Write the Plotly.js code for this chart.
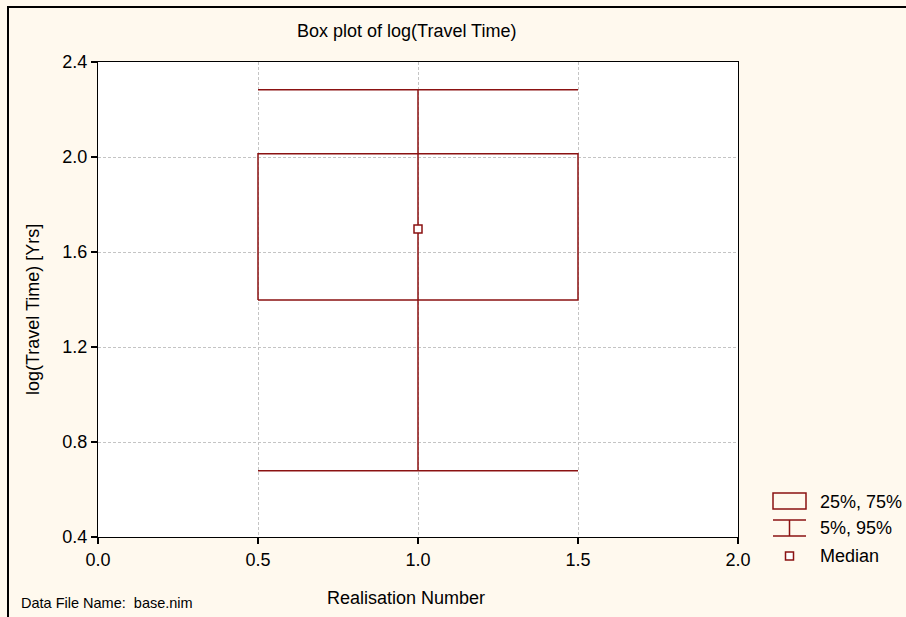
<!DOCTYPE html>
<html>
<head>
<meta charset="utf-8">
<script src="https://cdn.plot.ly/plotly-3.0.1.min.js"></script>
<style>
  html, body { margin: 0; padding: 0; background: #FFF9EE; }
  #wrap { position: relative; width: 906px; height: 617px; overflow: hidden; }
  #chart { position: absolute; left: 0; top: 0; width: 906px; height: 617px; }
  #frame { position: absolute; left: 7px; top: 6px; width: 920px; height: 640px;
           border-left: 2px solid #000; border-top: 2px solid #000; pointer-events: none; }
</style>
</head>
<body>
<div id="wrap"><div id="chart"></div><div id="frame"></div></div>
<script>
// ---- data ----
const realisation = [1];
const boxLeft = [0.5];
const boxRight = [1.5];
const p5 = [0.679];
const q25 = [1.398];
const median = [1.697];
const q75 = [2.014];
const p95 = [2.283];
const legendLabels = ["25%, 75%", "5%, 95%", "Median"];
const xTickVals = [0.0, 0.5, 1.0, 1.5, 2.0];
const yTickVals = [0.4, 0.8, 1.2, 1.6, 2.0, 2.4];

const RED = "#8B1212";
const FONT = "Liberation Sans, Arial, sans-serif";

// pixel -> paper helpers (plot area: x 98..738, y 62..537)
const L = 98, R = 168, T = 62, B = 80, W = 906, H = 617;
const pw = W - L - R, ph = H - T - B;
const px = v => (v - L) / pw;
const py = v => (H - B - v) / ph;

const traces = [];
for (let i = 0; i < realisation.length; i++) {
  // box outline
  traces.push({
    type: "scatter", mode: "lines", hoverinfo: "skip", showlegend: false,
    x: [boxLeft[i], boxRight[i], boxRight[i], boxLeft[i], boxLeft[i]],
    y: [q25[i], q25[i], q75[i], q75[i], q25[i]],
    line: { color: RED, width: 1.5 }
  });
  // whisker stem
  traces.push({
    type: "scatter", mode: "lines", hoverinfo: "skip", showlegend: false,
    x: [realisation[i], realisation[i]], y: [p5[i], p95[i]],
    line: { color: RED, width: 1.5 }
  });
  // whisker caps
  traces.push({
    type: "scatter", mode: "lines", hoverinfo: "skip", showlegend: false,
    x: [boxLeft[i], boxRight[i], null, boxLeft[i], boxRight[i]],
    y: [p5[i], p5[i], null, p95[i], p95[i]],
    line: { color: RED, width: 1.5 }
  });
  // median marker
  traces.push({
    type: "scatter", mode: "markers", hoverinfo: "skip", showlegend: false,
    x: [realisation[i]], y: [median[i]],
    marker: { symbol: "square", size: 8, color: "#ffffff", line: { color: RED, width: 1.5 } }
  });
}

const shapes = [
  // legend: box
  { type: "rect", xref: "paper", yref: "paper", x0: px(773), x1: px(806), y0: py(509), y1: py(493),
    line: { color: RED, width: 1.5 }, fillcolor: "rgba(0,0,0,0)" },
  // legend: whisker
  { type: "line", xref: "paper", yref: "paper", x0: px(773), x1: px(806), y0: py(520), y1: py(520), line: { color: RED, width: 1.5 } },
  { type: "line", xref: "paper", yref: "paper", x0: px(773), x1: px(806), y0: py(536), y1: py(536), line: { color: RED, width: 1.5 } },
  { type: "line", xref: "paper", yref: "paper", x0: px(789.5), x1: px(789.5), y0: py(520), y1: py(536), line: { color: RED, width: 1.5 } },
  // legend: median
  { type: "rect", xref: "paper", yref: "paper", x0: px(785.5), x1: px(793.5), y0: py(552), y1: py(560),
    line: { color: RED, width: 1.5 }, fillcolor: "#ffffff" }
];

const legendY = [502, 528, 556];
const annotations = [
  { text: "Box plot of log(Travel Time)", xref: "paper", yref: "paper", x: px(406), y: py(31),
    xanchor: "center", yanchor: "middle", showarrow: false, font: { family: FONT, size: 18, color: "#000" } },
  { text: "Realisation Number", xref: "paper", yref: "paper", x: px(406), y: py(598),
    xanchor: "center", yanchor: "middle", showarrow: false, font: { family: FONT, size: 18, color: "#000" } },
  { text: "log(Travel Time) [Yrs]", xref: "paper", yref: "paper", x: px(33), y: py(310), textangle: -90,
    xanchor: "center", yanchor: "middle", showarrow: false, font: { family: FONT, size: 18, color: "#000" } },
  { text: "Data File Name:  base.nim", xref: "paper", yref: "paper", x: px(19), y: py(603),
    xanchor: "left", yanchor: "middle", showarrow: false, font: { family: FONT, size: 14.5, color: "#000" } }
];
legendLabels.forEach((t, k) => {
  annotations.push({ text: t, xref: "paper", yref: "paper", x: px(818), y: py(legendY[k]),
    xanchor: "left", yanchor: "middle", showarrow: false, font: { family: FONT, size: 18, color: "#000" } });
});

const axisCommon = {
  showline: true, linecolor: "#000", linewidth: 1.2, mirror: true,
  ticks: "outside", ticklen: 6, tickcolor: "#000", tickwidth: 1.2,
  showgrid: true, gridcolor: "#c4c4c4", gridwidth: 1, griddash: "3px,2px",
  zeroline: false, tickfont: { family: FONT, size: 18, color: "#000" },
  tickformat: ".1f", fixedrange: true
};

const layout = {
  width: W, height: H,
  margin: { l: L, r: R, t: T, b: B, pad: 0 },
  paper_bgcolor: "#FFF9EE", plot_bgcolor: "#ffffff",
  showlegend: false,
  xaxis: Object.assign({}, axisCommon, { range: [0, 2], tickvals: xTickVals }),
  yaxis: Object.assign({}, axisCommon, { range: [0.4, 2.4], tickvals: yTickVals }),
  shapes: shapes,
  annotations: annotations
};

Plotly.newPlot("chart", traces, layout, { displayModeBar: false, staticPlot: true });
</script>
</body>
</html>
